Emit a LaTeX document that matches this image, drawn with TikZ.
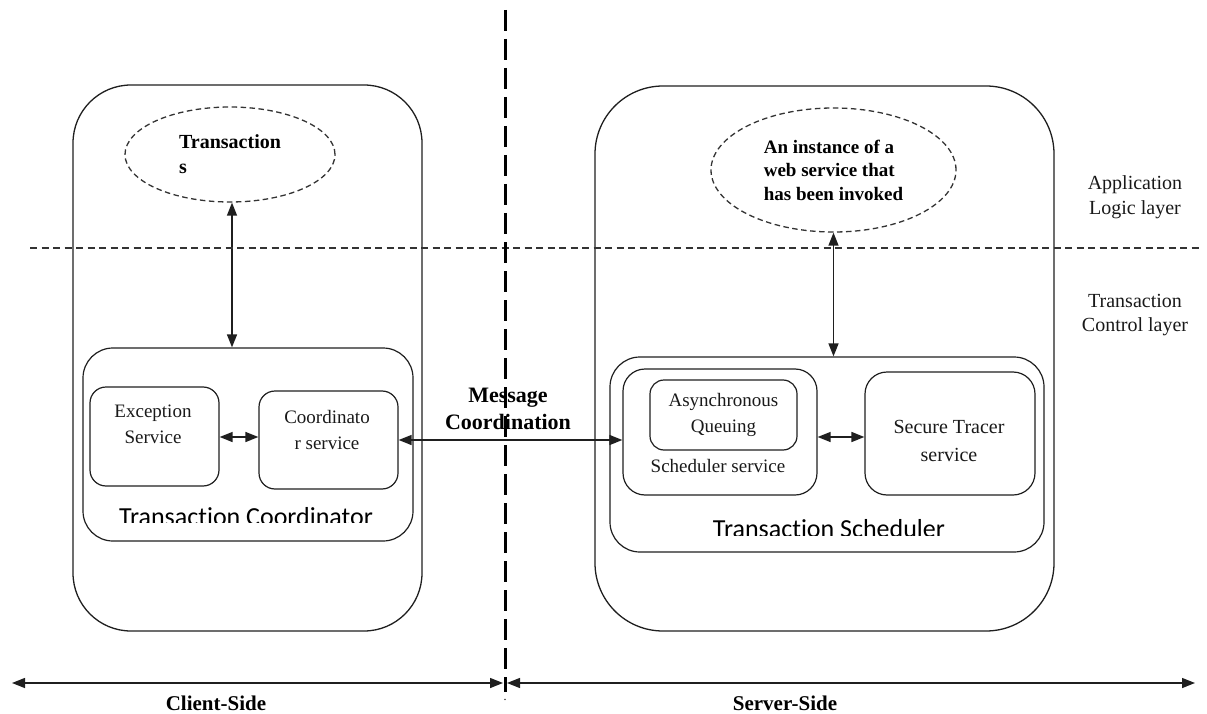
\documentclass[tikz,border=0pt]{standalone}
\usepackage{fontspec}
\setmainfont{Liberation Serif}
\newfontfamily\labelsans{Carlito}[Ligatures=NoCommon]
\usetikzlibrary{shapes.geometric,arrows.meta}

\begin{document}
\begin{tikzpicture}[x=1pt,y=-1pt,
  ink/.style={draw=black!88},
  sidebox/.style={ink, line width=1.3pt, rounded corners=#1, inner sep=0pt},
  groupbox/.style={ink, line width=1.2pt, rounded corners=#1, inner sep=0pt},
  svcbox/.style={ink, line width=1.2pt, rounded corners=#1, inner sep=0pt},
  cloud/.style={ellipse, draw=black!80, line width=1.3pt, dash pattern=on 5.5pt off 3.5pt, inner sep=0pt},
  svctext/.style={font=\fontsize{19}{26}\selectfont, align=center, inner sep=0pt, text=black!90},
  boldtext/.style={font=\bfseries\fontsize{19}{24}\selectfont, align=left, text=black},
  grouptext/.style={font=\labelsans\fontsize{26}{30}\selectfont, anchor=base, inner sep=0pt, text=black},
  biarrow/.style={ink, line width=1.4pt, arrows={Triangle[length=13pt,width=10pt]-Triangle[length=13pt,width=10pt]}},
  layerline/.style={draw=black!80, line width=1.1pt, dash pattern=on 7pt off 4.5pt},
  divider/.style={draw=black, line width=3pt, dash pattern=on 21pt off 8pt}
]
\useasboundingbox (0,0) rectangle (1207,714);

% client and server sides
\node[sidebox=58pt, minimum width=349pt, minimum height=546pt] (client) at (247.5,358) {};
\node[sidebox=68pt, minimum width=459pt, minimum height=545pt] (server) at (824.5,358.5) {};

% application logic layer
\node[cloud, minimum width=210pt, minimum height=95pt, boldtext, font=\bfseries\fontsize{20}{25}\selectfont] (txn) at (230,154.5) {Transaction\\s};
\node[cloud, minimum width=245pt, minimum height=124pt, boldtext, font=\bfseries\fontsize{19}{23.5}\selectfont] (inst) at (833.5,170) {An instance of a\\web service that\\has been invoked};

% transaction coordinator
\node[groupbox=30pt, minimum width=330pt, minimum height=193pt] (tc) at (248,444.5) {};
\node[svcbox=16pt, minimum width=129pt, minimum height=99pt] (exc) at (154.5,436.5) {};
\node[svcbox=16pt, minimum width=139pt, minimum height=98pt] (coord) at (328.5,440) {};
\node[svctext] (excT) at (153,424.5) {Exception\\Service};
\node[svctext] (coordT) at (327,429.5) {Coordinato\\r service};
\begin{scope}
  \clip (83,500) rectangle (413,522.5);
  \node[grouptext] (tcT) at (246,525) {Transaction Coordinator};
\end{scope}

% transaction scheduler
\node[groupbox=30pt, minimum width=434pt, minimum height=195pt] (ts) at (827,454.5) {};
\node[svcbox=22pt, minimum width=194pt, minimum height=126pt] (sched) at (720,432) {};
\node[svcbox=14pt, minimum width=147pt, minimum height=70pt, svctext] (async) at (723.5,415) {Asynchronous\\Queuing};
\node[svctext] (schedT) at (718,466) {Scheduler service};
\node[svcbox=22pt, minimum width=170pt, minimum height=123pt] (tracer) at (950,433.5) {};
\node[svctext, font=\fontsize{20}{28}\selectfont] (tracerT) at (949,441) {Secure Tracer\\service};
\begin{scope}
  \clip (610,510) rectangle (1044,535);
  \node[grouptext] (tsT) at (829,537) {Transaction Scheduler};
\end{scope}

% layer names
\node[svctext, font=\fontsize{20}{25}\selectfont] (applayer) at (1135,197.5) {Application\\Logic layer};
\node[svctext, font=\fontsize{20}{24}\selectfont] (ctrllayer) at (1135,315) {Transaction\\Control layer};

% message coordination
\node[font=\bfseries\fontsize{22}{27}\selectfont, align=center, inner sep=0pt, text=black] (msg) at (508,408.5) {Message\\Coordination};

% connectors
\draw[biarrow] ([xshift=2pt]txn.south) -- ([xshift=2pt]txn.south |- tc.north);
\draw[biarrow] (inst.south) -- (inst.south |- ts.north);
\draw[biarrow] ([yshift=-0.5pt]exc.east) -- ([yshift=-0.5pt]exc.east -| coord.west);
\draw[biarrow] (coord.east) -- (coord.east -| sched.west);
\draw[biarrow] ([yshift=-5pt]sched.east) -- ([yshift=-5pt]sched.east -| tracer.west);

% layer boundary
\coordinate (layerL) at (30,248);
\coordinate (layerR) at (1203,248);
\draw[layerline] (layerL) -- (layerR);

% client / server extent
\coordinate (clientL) at (12,683);
\coordinate (clientR) at (503,683);
\coordinate (serverL) at (507,683);
\coordinate (serverR) at (1195,683);
\draw[biarrow] (clientL) -- (clientR);
\draw[biarrow] (serverL) -- (serverR);
\node[font=\bfseries\fontsize{21}{24}\selectfont, text=black] (clientT) at (216,703) {Client-Side};
\node[font=\bfseries\fontsize{21}{24}\selectfont, text=black] (serverT) at (785,703) {Server-Side};

% client / server divider
\coordinate (divTop) at (505,10);
\coordinate (divBot) at (505,692);
\draw[divider] (divTop) -- (divBot);
\node[font=\fontsize{12}{12}\selectfont, inner sep=0pt] (dot) at (505,700) {.};
\end{tikzpicture}
\end{document}
